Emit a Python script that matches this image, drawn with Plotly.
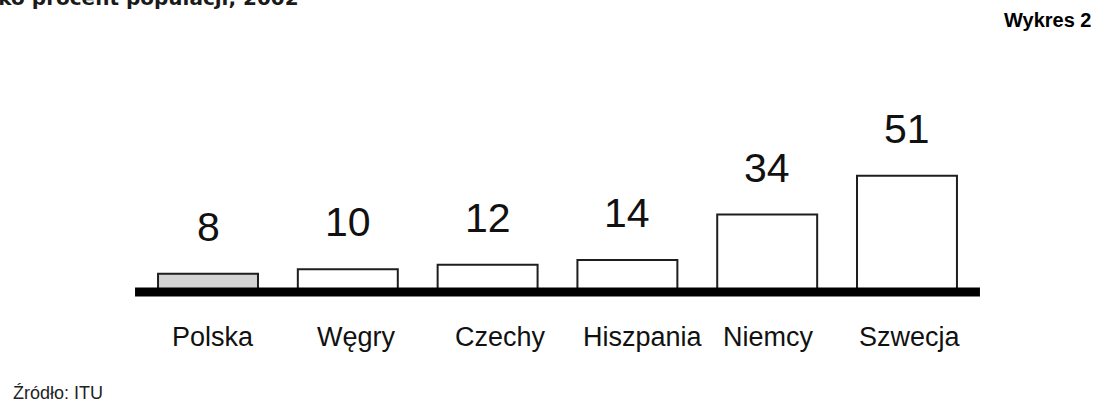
import plotly.graph_objects as go

# Internet users as a percentage of population, 2002
countries = ["Polska", "Węgry", "Czechy", "Hiszpania", "Niemcy", "Szwecja"]
users_pct = [8, 10, 12, 14, 34, 51]

# Styling (kept separate from the data)
fill_colors = ["#d3d3d3", "#ffffff", "#ffffff", "#ffffff", "#ffffff", "#ffffff"]
label_xshift = [5, 9, 13, 16, 1, 3]

W, H = 1102, 409
FONT = "Liberation Sans, Arial, sans-serif"

fig = go.Figure()
fig.add_trace(go.Bar(
    x=countries,
    y=users_pct,
    width=0.715,
    marker=dict(color=fill_colors, line=dict(color="#1e1e1e", width=2)),
    hoverinfo="skip",
))

# value labels above the bars
for c, v in zip(countries, users_pct):
    fig.add_annotation(
        x=c, y=v, xref="x", yref="y", text=str(v), showarrow=False,
        yanchor="bottom", yshift=22,
        font=dict(family=FONT, size=41, color="#111111"),
    )

# country names under the baseline
for c, dx in zip(countries, label_xshift):
    fig.add_annotation(
        x=c, y=0, xref="x", yref="y", text=c, showarrow=False,
        yanchor="top", yshift=-28, xshift=dx,
        font=dict(family=FONT, size=27, color="#111111"),
    )

# thick baseline
fig.add_shape(
    type="line", xref="x", yref="y", x0=-0.522, x1=5.522, y0=0, y1=0,
    line=dict(color="#000000", width=9), layer="above",
)

# titles and source
fig.add_annotation(
    xref="paper", yref="paper", x=301 / W, y=1, xanchor="right", yanchor="bottom",
    yshift=-12, text="<b>jako procent populacji, 2002</b>", showarrow=False,
    font=dict(family="DejaVu Sans, Verdana, sans-serif", size=20, color="#1a1a1a"),
)
fig.add_annotation(
    xref="paper", yref="paper", x=1093 / W, y=1, xanchor="right", yanchor="top",
    yshift=-7, text="<b>Wykres 2</b>", showarrow=False,
    font=dict(family=FONT, size=20, color="#000000"),
)
fig.add_annotation(
    xref="paper", yref="paper", x=11 / W, y=0, xanchor="left", yanchor="bottom",
    yshift=4, text="Źródło: ITU", showarrow=False,
    font=dict(family=FONT, size=18, color="#222222"),
)

fig.update_layout(
    width=W, height=H,
    margin=dict(l=0, r=0, t=0, b=0),
    paper_bgcolor="#ffffff", plot_bgcolor="#ffffff",
    showlegend=False,
    xaxis=dict(type="category", range=[-1.488, 6.395], visible=False, fixedrange=True),
    yaxis=dict(range=[-51.3, 128.07], visible=False, fixedrange=True),
)

fig.write_html("out.html")
